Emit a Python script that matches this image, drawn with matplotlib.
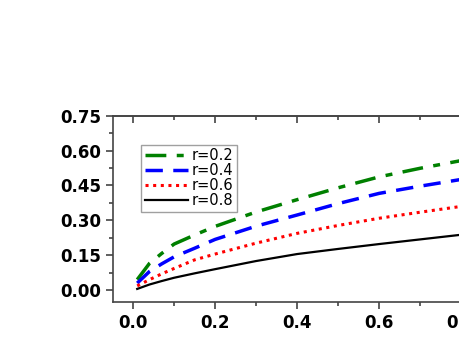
import matplotlib
matplotlib.use("Agg")
import matplotlib.pyplot as plt
from matplotlib.ticker import MultipleLocator, FormatStrFormatter, NullFormatter

x = [0.01, 0.04, 0.07, 0.1, 0.15, 0.2, 0.3, 0.4, 0.5, 0.6, 0.7, 0.8, 0.9, 1.0]
r02 = [0.045, 0.115, 0.158, 0.198, 0.237, 0.274, 0.336, 0.389, 0.440, 0.487, 0.524, 0.557, 0.590, 0.620]
r04 = [0.030, 0.080, 0.113, 0.143, 0.180, 0.218, 0.275, 0.323, 0.372, 0.416, 0.447, 0.476, 0.505, 0.532]
r06 = [0.018, 0.045, 0.070, 0.093, 0.130, 0.155, 0.202, 0.244, 0.278, 0.309, 0.335, 0.360, 0.384, 0.407]
r08 = [0.005, 0.024, 0.039, 0.053, 0.072, 0.090, 0.125, 0.155, 0.177, 0.198, 0.218, 0.238, 0.257, 0.275]
labels = ["r=0.2", "r=0.4", "r=0.6", "r=0.8"]

fig = plt.figure(figsize=(4.6, 3.45), dpi=100)
ax = fig.add_axes([0.2457, 0.1255, 0.935, 0.539])

ax.plot(x, r02, color="green", lw=2.5, dashes=(6, 3, 2, 3), label=labels[0])
ax.plot(x, r04, color="blue", lw=2.5, dashes=(5, 3), label=labels[1])
ax.plot(x, r06, color="red", lw=2.2, dashes=(1, 1.5), label=labels[2])
ax.plot(x, r08, color="black", lw=1.6, label=labels[3])

ax.set_xlim(-0.049, 1.0)
ax.set_ylim(-0.05, 0.75)
ax.xaxis.set_major_locator(MultipleLocator(0.2))
ax.xaxis.set_minor_locator(MultipleLocator(0.1))
ax.yaxis.set_major_locator(MultipleLocator(0.15))
ax.yaxis.set_minor_locator(MultipleLocator(0.075))
ax.xaxis.set_major_formatter(FormatStrFormatter("%.1f"))
ax.yaxis.set_major_formatter(FormatStrFormatter("%.2f"))

for s in ax.spines.values():
    s.set_linewidth(1.2)
    s.set_color("#444444")
ax.tick_params(axis="both", which="both", direction="out", width=1.2, color="#444444")
ax.tick_params(which="major", length=5)
ax.tick_params(which="minor", length=3)
for lab in ax.get_xticklabels() + ax.get_yticklabels():
    lab.set_fontfamily("DejaVu Sans")
    lab.set_fontweight("bold")
    lab.set_fontsize(12)

# top axis ticks pointing inward
top = ax.secondary_xaxis("top")
top.xaxis.set_major_locator(MultipleLocator(0.2))
top.xaxis.set_minor_locator(MultipleLocator(0.1))
top.xaxis.set_major_formatter(NullFormatter())
top.tick_params(which="both", direction="in", width=1.2, color="#444444")
top.tick_params(which="major", length=5)
top.tick_params(which="minor", length=3)
top.spines["top"].set_linewidth(1.2)
top.spines["top"].set_color("#444444")

leg = ax.legend(loc="upper left", bbox_to_anchor=(0.065, 0.845), frameon=True,
                fancybox=False, edgecolor="#888888", handlelength=3.0,
                prop={"family": "DejaVu Sans", "size": 10.5},
                borderpad=0.25, labelspacing=0.0, handletextpad=0.2, borderaxespad=0)
leg.get_frame().set_linewidth(1.0)

fig.savefig("out.png", dpi=100)
